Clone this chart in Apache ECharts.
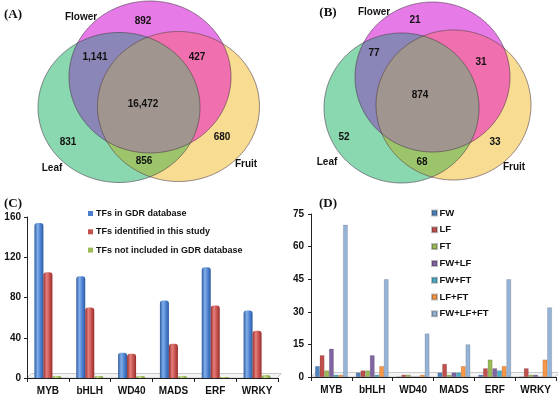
<!DOCTYPE html>
<html><head><meta charset="utf-8">
<script src="https://cdn.jsdelivr.net/npm/echarts@6/dist/echarts.min.js"></script>
<style>html,body{margin:0;padding:0;background:#fff}#c{width:558px;height:396px}</style>
</head><body><div id="c"></div>
<script>
// ---------- DATA ----------
const vennSetNames = ['Flower', 'Leaf', 'Fruit'];
// region order: Flower only, Flower∩Leaf, Flower∩Fruit, all three, Leaf only, Fruit only, Leaf∩Fruit
const vennACounts = [892, 1141, 427, 16472, 831, 680, 856];
const vennBCounts = [21, 77, 31, 874, 52, 33, 68];

const categories = ['MYB', 'bHLH', 'WD40', 'MADS', 'ERF', 'WRKY'];
const cNames = ['TFs in GDR database', 'TFs identified in this study', 'TFs not included in GDR database'];
const cGDR = [154, 101, 25, 77, 110, 67];
const cStudy = [105, 70, 24, 34, 72, 47];
const cNotIncluded = [2, 2, 2, 2, 1, 3];
const cTicks = [0, 40, 80, 120, 160];

const dNames = ['FW', 'LF', 'FT', 'FW+LF', 'FW+FT', 'LF+FT', 'FW+LF+FT'];
const dFW = [5, 2, 0, 2, 1, 0];
const dLF = [10, 3, 1, 6, 4, 4];
const dFT = [3, 3, 1, 1, 8, 1];
const dFWLF = [13, 10, 0, 2, 4, 1];
const dFWFT = [1, 1, 0, 2, 3, 0];
const dLFFT = [1, 5, 1, 5, 5, 8];
const dAll = [70, 45, 20, 15, 45, 32];
const dTicks = [0, 15, 30, 45, 60, 75];

// ---------- LAYOUT / STYLE ----------
const FONT = '"Liberation Sans", Arial, sans-serif';
const vennColors = {
  W: '#e67be7', L: '#8ad8b0', F: '#f8dc92',
  LW: '#8a86b7', FW: '#f06fae', LF: '#9cc56b', LFW: '#a1958f'
};
const layoutA = { W: [150, 77, 81, 76], L: [119, 107.5, 81, 75], F: [178.5, 106.5, 81, 75],
  regionPos: [[143, 21], [95, 57], [197, 57], [143, 104], [68, 142], [222, 137], [144, 161]],
  namePos: [[81, 17], [52, 168], [246, 164]], tag: ['(A)', 13, 15] };
const layoutB = { W: [432.5, 77, 77.5, 75], L: [401.5, 108, 77.5, 75], F: [453.5, 105, 77.5, 75],
  regionPos: [[415, 20], [374, 53], [481, 62], [420, 95], [344, 137], [495, 142], [422, 162]],
  namePos: [[374, 12], [327, 162], [514, 167]], tag: ['(B)', 328, 13] };
const gridC = { left: 27, right: 280, top: 217, bottom: 18 };
const gridD = { left: 311, right: 2, top: 214, bottom: 19 };
const W0 = 558, H0 = 396;

function ellipsePts(e, n) {
  const pts = [];
  for (let i = 0; i < n; i++) {
    const t = 2 * Math.PI * i / n;
    pts.push([e[0] + e[2] * Math.cos(t), e[1] + e[3] * Math.sin(t)]);
  }
  return pts;
}
function clip(subject, clipPoly) {
  let out = subject;
  for (let i = 0; i < clipPoly.length; i++) {
    const a = clipPoly[i], b = clipPoly[(i + 1) % clipPoly.length];
    const inside = p => (b[0] - a[0]) * (p[1] - a[1]) - (b[1] - a[1]) * (p[0] - a[0]) >= 0;
    const inter = (p, q) => {
      const x1 = p[0], y1 = p[1], x2 = q[0], y2 = q[1];
      const x3 = a[0], y3 = a[1], x4 = b[0], y4 = b[1];
      const den = (x1 - x2) * (y3 - y4) - (y1 - y2) * (x3 - x4);
      const t = ((x1 - x3) * (y3 - y4) - (y1 - y3) * (x3 - x4)) / den;
      return [x1 + t * (x2 - x1), y1 + t * (y2 - y1)];
    };
    const input = out; out = [];
    if (!input.length) break;
    for (let j = 0; j < input.length; j++) {
      const cur = input[j], prev = input[(j + input.length - 1) % input.length];
      if (inside(cur)) {
        if (!inside(prev)) out.push(inter(prev, cur));
        out.push(cur);
      } else if (inside(prev)) out.push(inter(prev, cur));
    }
  }
  return out;
}
function vennGraphics(lay, counts) {
  const W = ellipsePts(lay.W, 240), L = ellipsePts(lay.L, 240), F = ellipsePts(lay.F, 240);
  const g = [];
  const poly = (pts, fill) => g.push({ type: 'polygon', silent: true, shape: { points: pts }, style: { fill: fill } });
  poly(W, vennColors.W); poly(L, vennColors.L); poly(F, vennColors.F);
  poly(clip(L, W), vennColors.LW);
  poly(clip(F, W), vennColors.FW);
  poly(clip(L, F), vennColors.LF);
  poly(clip(clip(L, F), W), vennColors.LFW);
  [W, L, F].forEach(p => g.push({ type: 'polygon', silent: true, shape: { points: p },
    style: { fill: 'none', stroke: 'rgba(70,50,70,0.7)', lineWidth: 0.8 } }));
  const txt = (s, x, y, font) => g.push({ type: 'text', silent: true, x: x, y: y,
    style: { text: s, fill: '#111', font: font, textAlign: 'center', textVerticalAlign: 'middle', align: 'center', verticalAlign: 'middle' } });
  counts.forEach((c, i) => txt(c.toLocaleString('en-US'), lay.regionPos[i][0], lay.regionPos[i][1], 'bold 10px ' + FONT));
  vennSetNames.forEach((n, i) => txt(n, lay.namePos[i][0], lay.namePos[i][1], 'bold 10px ' + FONT));
  txt(lay.tag[0], lay.tag[1], lay.tag[2], 'bold 13px "Liberation Serif", "Times New Roman", serif');
  return g;
}
// faint 3-D style floor under each bar chart (decoration derived from grid box)
function floor(gr) {
  const x0 = gr.left, x1 = W0 - gr.right, y0 = H0 - gr.bottom, d = 4.5;
  return { type: 'polygon', silent: true, z: -1,
    shape: { points: [[x0, y0], [x0 + d, y0 - d], [x1 + d - 1, y0 - d], [x1 - 1, y0]] },
    style: { fill: '#f3f3f3', stroke: '#bdbdbd', lineWidth: 0.8 } };
}

function cyl(dark, mid, light) {
  return { type: 'linear', x: 0, y: 0, x2: 1, y2: 0,
    colorStops: [{ offset: 0, color: dark }, { offset: 0.35, color: light }, { offset: 0.7, color: mid }, { offset: 1, color: dark }] };
}

const axisLabelStyle = { color: '#111', fontFamily: FONT, fontWeight: 'bold', fontSize: 10 };
const axisLine = { show: true, lineStyle: { color: '#222', width: 1 } };

const cColors = [cyl('#2d5b9e', '#4a7fcf', '#82aeea'), cyl('#962c2a', '#c4504d', '#e5807c'), cyl('#6f8f35', '#9bbb59', '#c6de8e')];
const cLegendColors = ['#4a7fcf', '#c4504d', '#9bbb59'];
const dColors = ['#4f81bd', '#c0504d', '#9bbb59', '#8064a2', '#4bacc6', '#f79646', '#95b3d7'];
const dData = [dFW, dLF, dFT, dFWLF, dFWFT, dLFFT, dAll];
const cData = [cGDR, cStudy, cNotIncluded];

const series = [];
cData.forEach((d, i) => series.push({
  name: cNames[i], type: 'bar', xAxisIndex: 0, yAxisIndex: 0, data: d,
  barWidth: 9, barGap: '0%',
  itemStyle: { color: cColors[i], borderRadius: [3, 3, 0, 0] }
}));
dData.forEach((d, i) => series.push({
  name: dNames[i], type: 'bar', xAxisIndex: 1, yAxisIndex: 1, data: d,
  barGap: '0%', barCategoryGap: '20%',
  itemStyle: { color: dColors[i], borderColor: 'rgba(0,0,0,0.25)', borderWidth: 0.5 }
}));

const chart = echarts.init(document.getElementById('c'), null, { renderer: 'canvas' });
chart.setOption({
  backgroundColor: '#fff',
  animation: false,
  textStyle: { fontFamily: FONT },
  grid: [gridC, gridD],
  xAxis: [0, 1].map(i => ({
    type: 'category', gridIndex: i, data: categories,
    axisLine: axisLine, axisTick: { show: true, length: 4, lineStyle: { color: '#222' } },
    axisLabel: Object.assign({ margin: 8 }, axisLabelStyle)
  })),
  yAxis: [
    { type: 'value', gridIndex: 0, min: cTicks[0], max: cTicks[cTicks.length - 1], interval: cTicks[1] - cTicks[0],
      axisLine: axisLine, axisTick: { show: true, length: 3, lineStyle: { color: '#222' } }, splitLine: { show: false },
      axisLabel: Object.assign({ margin: 6 }, axisLabelStyle) },
    { type: 'value', gridIndex: 1, min: dTicks[0], max: dTicks[dTicks.length - 1], interval: dTicks[1] - dTicks[0],
      axisLine: axisLine, axisTick: { show: true, length: 3, lineStyle: { color: '#222' } }, splitLine: { show: false },
      axisLabel: Object.assign({ margin: 7 }, axisLabelStyle) }
  ],
  legend: [
    { data: cNames.map((n, i) => ({ name: n, itemStyle: { color: cLegendColors[i] } })),
      orient: 'vertical', left: 83, top: 203.5, itemWidth: 5, itemHeight: 5, itemGap: 8.3,
      icon: 'rect', selectedMode: false,
      textStyle: { color: '#111', fontFamily: FONT, fontWeight: 'bold', fontSize: 9, lineHeight: 10, padding: [0, 0, 0, -2] } },
    { data: dNames, orient: 'vertical', left: 426, top: 203, itemWidth: 5, itemHeight: 5, itemGap: 6.8,
      icon: 'rect', selectedMode: false,
      textStyle: { color: '#111', fontFamily: FONT, fontWeight: 'bold', fontSize: 9.5, lineHeight: 10, padding: [0, 0, 0, -2.5] } }
  ],
  graphic: [].concat(
    [floor(gridC), floor(gridD)],
    vennGraphics(layoutA, vennACounts),
    vennGraphics(layoutB, vennBCounts),
    [
      { type: 'text', silent: true, x: 13, y: 204, style: { text: '(C)', fill: '#111', font: 'bold 13px "Liberation Serif", serif', textAlign: 'center', textVerticalAlign: 'middle', align: 'center', verticalAlign: 'middle' } },
      { type: 'text', silent: true, x: 328, y: 204, style: { text: '(D)', fill: '#111', font: 'bold 13px "Liberation Serif", serif', textAlign: 'center', textVerticalAlign: 'middle', align: 'center', verticalAlign: 'middle' } }
    ]
  ),
  series: series
});
</script>
</body></html>
